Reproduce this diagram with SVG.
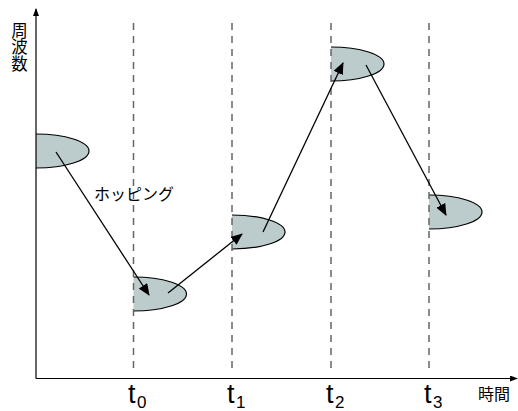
<svg xmlns="http://www.w3.org/2000/svg" width="518" height="411" viewBox="0 0 518 411">
<style>
.ax{stroke:#000;stroke-width:1.2;fill:none}
.dash{stroke:#666;stroke-width:1.5;stroke-dasharray:7,6;fill:none}
.blob{fill:#bccbcc;stroke:none}
.rim{fill:none;stroke:#000;stroke-width:1.2}
.hop{stroke:#000;stroke-width:1.3;fill:none;marker-end:url(#ah)}
.jp{font-family:"Noto Sans CJK JP","Noto Sans",sans-serif;font-size:16px;fill:#000}
.t{font-family:"Liberation Sans",Arial,sans-serif;font-size:27px;fill:#000}
.sub{font-family:"Liberation Sans",Arial,sans-serif;font-size:17px;fill:#000}
</style>
<defs>
<marker id="ah" markerWidth="12" markerHeight="10" refX="11" refY="5" orient="auto" markerUnits="userSpaceOnUse">
<path d="M0,0 L12,5 L0,10 Z" fill="#000"/>
</marker>
<marker id="axh" markerWidth="8" markerHeight="6" refX="7" refY="3" orient="auto" markerUnits="userSpaceOnUse">
<path d="M0,0 L8,3 L0,6 Z" fill="#000"/>
</marker>
</defs>
<g id="slots">
<g id="s1"><path class="blob" d="M36,134 A53,17 0 0 1 36,168 Z"/><path class="rim" d="M36,134 A53,17 0 0 1 36,168"/></g>
<g id="s2"><path class="blob" d="M133.5,277 A53,17 0 0 1 133.5,311 Z"/><path class="rim" d="M133.5,277 A53,17 0 0 1 133.5,311"/></g>
<g id="s3"><path class="blob" d="M232,215 A53,17 0 0 1 232,249 Z"/><path class="rim" d="M232,215 A53,17 0 0 1 232,249"/></g>
<g id="s4"><path class="blob" d="M331,47 A53,17 0 0 1 331,81 Z"/><path class="rim" d="M331,47 A53,17 0 0 1 331,81"/></g>
<g id="s5"><path class="blob" d="M429,195 A53,17 0 0 1 429,229 Z"/><path class="rim" d="M429,195 A53,17 0 0 1 429,229"/></g>
</g>
<g id="gridlines">
<line class="dash" x1="133.5" y1="23" x2="133.5" y2="374"/>
<line class="dash" x1="232" y1="23" x2="232" y2="374"/>
<line class="dash" x1="331" y1="23" x2="331" y2="374"/>
<line class="dash" x1="429" y1="23" x2="429" y2="374"/>
</g>
<g id="axes">
<line class="ax" x1="36" y1="378.5" x2="36" y2="9" marker-end="url(#axh)"/>
<line class="ax" x1="36" y1="378.5" x2="517" y2="378.5" marker-end="url(#axh)"/>
</g>
<g id="connectors">
<line class="hop" x1="56" y1="152" x2="149" y2="295"/>
<line class="hop" x1="168" y1="293" x2="242" y2="234"/>
<line class="hop" x1="263" y1="232" x2="343" y2="63"/>
<line class="hop" x1="366" y1="65" x2="446" y2="215"/>
</g>
<g id="labels">
<text class="jp" x="19.5" y="22" style="writing-mode:vertical-rl;font-size:16.5px">周波数</text>
<text class="jp" x="94" y="200">ホッピング</text>
<text class="jp" x="478" y="400">時間</text>
<text class="t" x="128" y="403">t</text><text class="sub" x="137" y="408">0</text>
<text class="t" x="227" y="403">t</text><text class="sub" x="236" y="408">1</text>
<text class="t" x="326" y="403">t</text><text class="sub" x="335" y="408">2</text>
<text class="t" x="424" y="403">t</text><text class="sub" x="433" y="408">3</text>
</g>
</svg>
